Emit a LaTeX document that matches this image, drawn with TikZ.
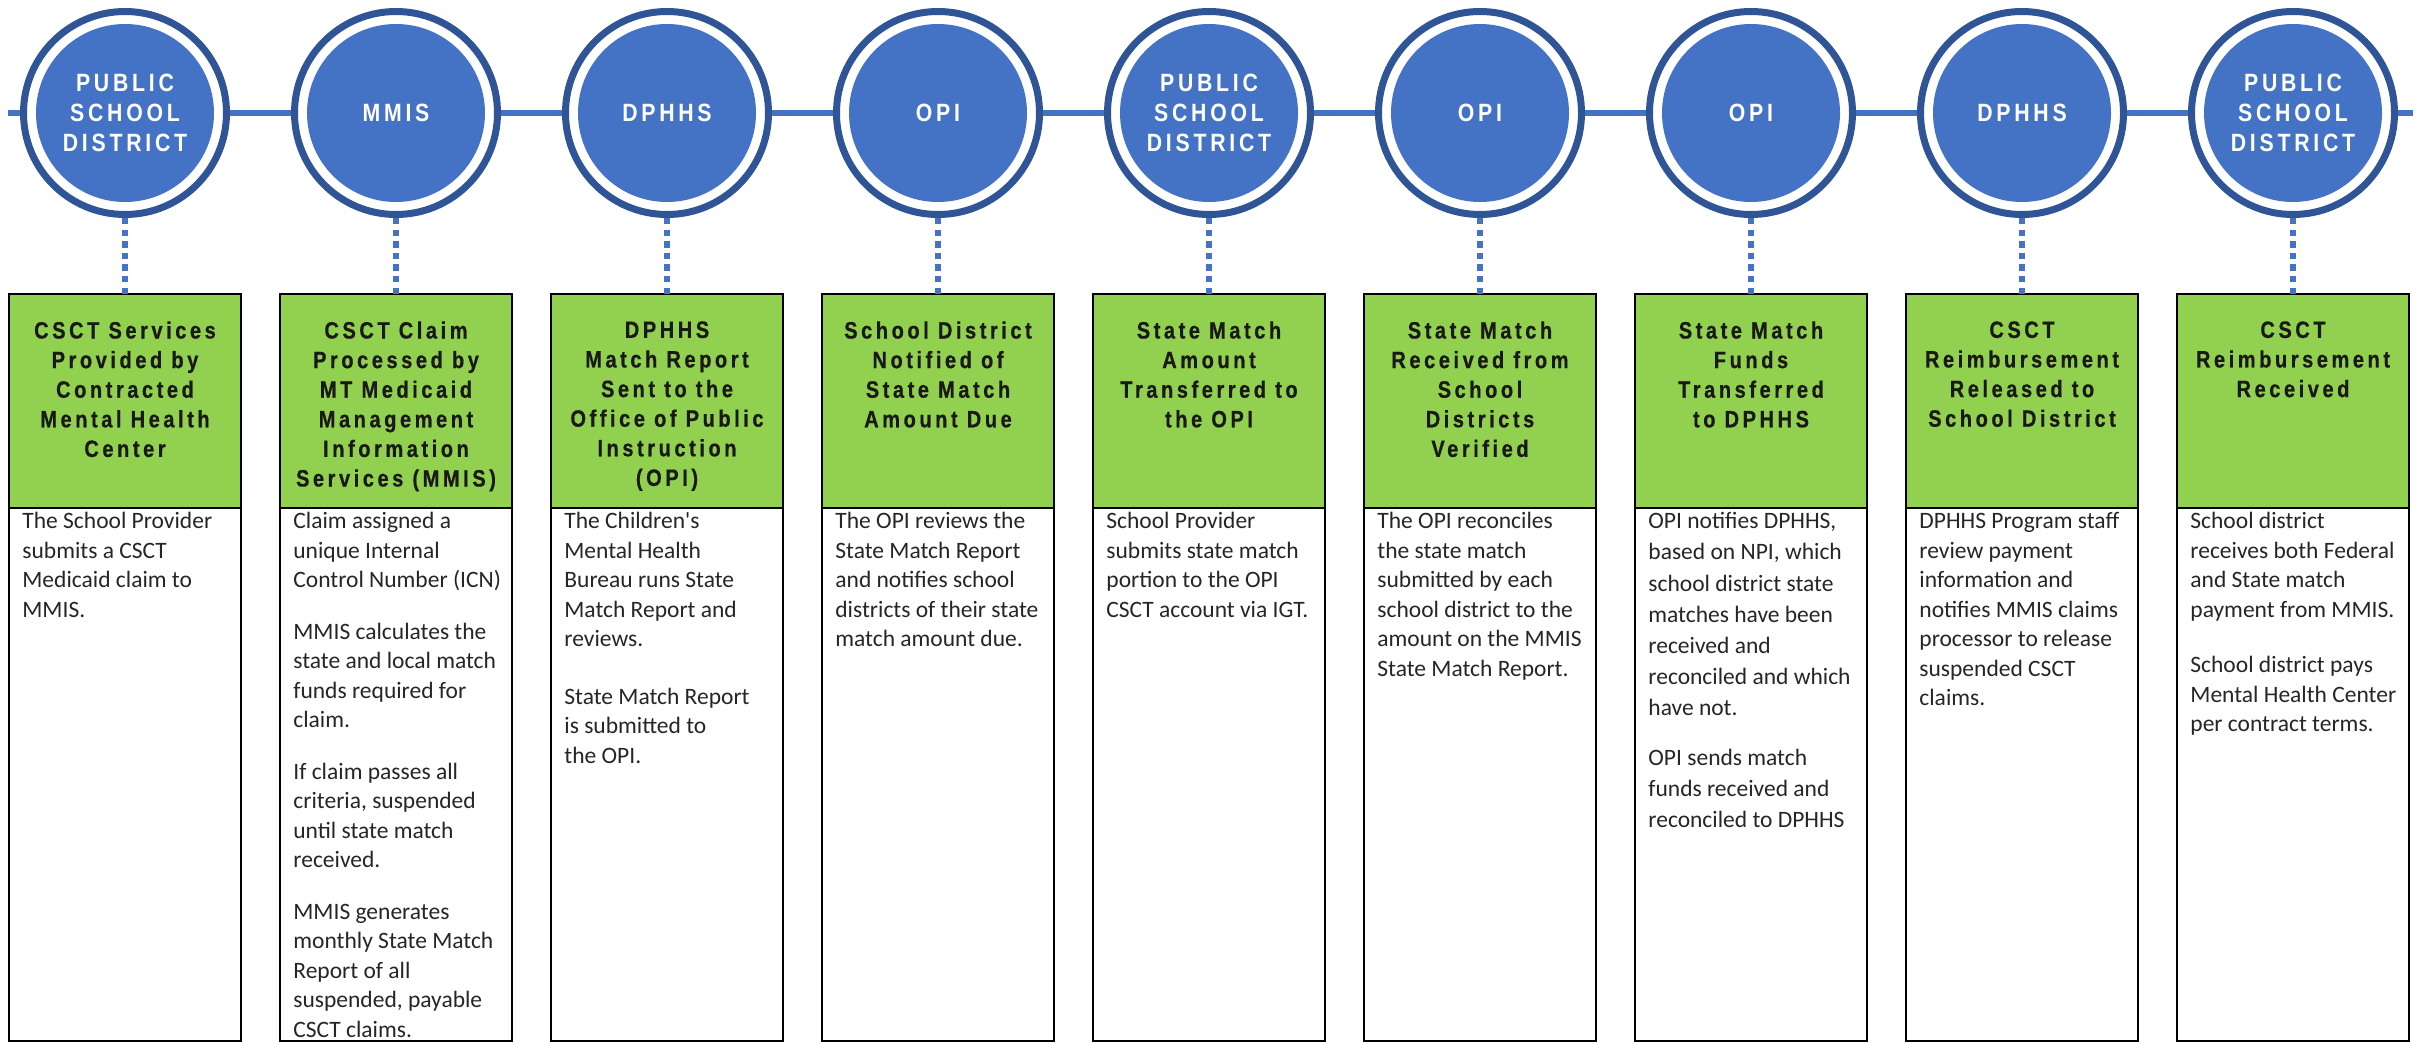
\documentclass[tikz,border=0pt]{standalone}
\usepackage{fontspec}
\usepackage{tikz}
\usetikzlibrary{positioning}
\newfontfamily\hubfont{Liberation Sans}[FakeStretch=0.85,LetterSpace=15]
\newfontfamily\headfont{Liberation Sans Bold}[FakeStretch=0.85,LetterSpace=15,FakeBold=0.6]
\newfontfamily\bodyfont{Carlito}
\definecolor{hubblue}{HTML}{4472C4}
\definecolor{ringblue}{HTML}{2F5597}
\definecolor{stepgreen}{HTML}{92D050}
\definecolor{bodygray}{HTML}{262626}
\tikzset{
    hub/.style={circle, draw=ringblue, line width=3.5pt, fill=white, minimum size=101.5pt, inner sep=0pt,
        text=white, align=center, font=\hubfont\bfseries\fontsize{12.5}{15}\selectfont,
        path picture={\fill[hubblue] (path picture bounding box.center) circle[radius=44.5pt];}},
    headbox/.style={rectangle, draw=black, line width=1.4pt, fill=stepgreen, minimum width=116pt, minimum height=107pt, outer sep=0pt, anchor=north},
    bodybox/.style={rectangle, draw=black, line width=1.2pt, fill=white, minimum width=116pt, minimum height=266.5pt, outer sep=0pt},
    steptitle/.style={align=center, inner sep=0pt, text=black!90, font=\headfont\fontsize{11.8}{14.8}\selectfont},
    stepnotes/.style={align=left, inner sep=0pt, text=bodygray, font=\bodyfont\fontsize{11.75}{14.75}\selectfont},
    timeline/.style={draw=hubblue, line width=3pt},
    dotlink/.style={draw=hubblue, line width=3.2pt, dash pattern=on 3.2pt off 2.6pt}
}
\begin{document}
\begin{tikzpicture}[x=0.5pt, y=-0.5pt]
  \useasboundingbox (0,0) rectangle (2420,1044);
  % who acts at each step
  \node[hub] (c1) at (125,113) {PUBLIC\\SCHOOL\\DISTRICT};
  \node[hub] (c2) at (396,113) {MMIS};
  \node[hub] (c3) at (667,113) {DPHHS};
  \node[hub] (c4) at (938,113) {OPI};
  \node[hub] (c5) at (1209,113) {PUBLIC\\SCHOOL\\DISTRICT};
  \node[hub] (c6) at (1480,113) {OPI};
  \node[hub] (c7) at (1751,113) {OPI};
  \node[hub] (c8) at (2022,113) {DPHHS};
  \node[hub] (c9) at (2293,113) {PUBLIC\\SCHOOL\\DISTRICT};
  \coordinate (lineL) at (8,113);
  \coordinate (lineR) at (2413,113);
  \draw[timeline] (lineL) -- (c1);
  \draw[timeline] (c1) -- (c2);
  \draw[timeline] (c2) -- (c3);
  \draw[timeline] (c3) -- (c4);
  \draw[timeline] (c4) -- (c5);
  \draw[timeline] (c5) -- (c6);
  \draw[timeline] (c6) -- (c7);
  \draw[timeline] (c7) -- (c8);
  \draw[timeline] (c8) -- (c9);
  \draw[timeline] (c9) -- (lineR);

  % step boxes
  \node[headbox] (h1) at (125,294) {};
  \node[headbox] (h2) at (396,294) {};
  \node[headbox] (h3) at (667,294) {};
  \node[headbox] (h4) at (938,294) {};
  \node[headbox] (h5) at (1209,294) {};
  \node[headbox] (h6) at (1480,294) {};
  \node[headbox] (h7) at (1751,294) {};
  \node[headbox] (h8) at (2022,294) {};
  \node[headbox] (h9) at (2293,294) {};
  \node[bodybox, below=0pt of h1] (b1) {};
  \node[bodybox, below=0pt of h2] (b2) {};
  \node[bodybox, below=0pt of h3] (b3) {};
  \node[bodybox, below=0pt of h4] (b4) {};
  \node[bodybox, below=0pt of h5] (b5) {};
  \node[bodybox, below=0pt of h6] (b6) {};
  \node[bodybox, below=0pt of h7] (b7) {};
  \node[bodybox, below=0pt of h8] (b8) {};
  \node[bodybox, below=0pt of h9] (b9) {};
  \draw[dotlink] (c1) -- (h1);
  \draw[dotlink] (c2) -- (h2);
  \draw[dotlink] (c3) -- (h3);
  \draw[dotlink] (c4) -- (h4);
  \draw[dotlink] (c5) -- (h5);
  \draw[dotlink] (c6) -- (h6);
  \draw[dotlink] (c7) -- (h7);
  \draw[dotlink] (c8) -- (h8);
  \draw[dotlink] (c9) -- (h9);

  % titles
  \node[steptitle, below=13.5pt of h1.north] (t1) {CSCT Services\\Provided by\\Contracted\\Mental Health\\Center};
  \node[steptitle, below=13.5pt of h2.north] (t2) {CSCT Claim\\Processed by\\MT Medicaid\\Management\\Information\\Services (MMIS)};
  \node[steptitle, below=13.5pt of h3.north] (t3) {DPHHS\\Match Report\\Sent to the\\Office of Public\\Instruction\\(OPI)};
  \node[steptitle, below=13.5pt of h4.north] (t4) {School District\\Notified of\\State Match\\Amount Due};
  \node[steptitle, below=13.5pt of h5.north] (t5) {State Match\\Amount\\Transferred to\\the OPI};
  \node[steptitle, below=13.5pt of h6.north] (t6) {State Match\\Received from\\School\\Districts\\Verified};
  \node[steptitle, below=13.5pt of h7.north] (t7) {State Match\\Funds\\Transferred\\to DPHHS};
  \node[steptitle, below=13.5pt of h8.north] (t8) {CSCT\\Reimbursement\\Released to\\School District};
  \node[steptitle, below=13.5pt of h9.north] (t9) {CSCT\\Reimbursement\\Received};

  % what happens
  \node[stepnotes, below right=2pt and 6.5pt of b1.north west] (d1) {The School Provider\\submits a CSCT\\Medicaid claim to\\MMIS.};
  \node[stepnotes, below right=2pt and 6.5pt of b2.north west] (d2) {Claim assigned a\\unique Internal\\Control Number (ICN)\\[11pt]
    MMIS calculates the\\state and local match\\funds required for\\claim.\\[11pt]
    If claim passes all\\criteria, suspended\\until state match\\received.\\[11pt]
    MMIS generates\\monthly State Match\\Report of all\\suspended, payable\\CSCT claims.};
  \node[stepnotes, below right=2pt and 6.5pt of b3.north west] (d3) {The Children's\\Mental Health\\Bureau runs State\\Match Report and\\reviews.\\[14pt]
    State Match Report\\is submitted to\\the OPI.};
  \node[stepnotes, below right=2pt and 6.5pt of b4.north west] (d4) {The OPI reviews the\\State Match Report\\and notifies school\\districts of their state\\match amount due.};
  \node[stepnotes, below right=2pt and 6.5pt of b5.north west] (d5) {School Provider\\submits state match\\portion to the OPI\\CSCT account via IGT.};
  \node[stepnotes, below right=2pt and 6.5pt of b6.north west] (d6) {The OPI reconciles\\the state match\\submitted by each\\school district to the\\amount on the MMIS\\State Match Report.};
  \node[stepnotes, below right=2pt and 6.5pt of b7.north west, font=\bodyfont\fontsize{11.75}{15.6}\selectfont] (d7) {OPI notifies DPHHS,\\based on NPI, which\\school district state\\matches have been\\received and\\reconciled and which\\have not.\\[9pt]
    OPI sends match\\funds received and\\reconciled to DPHHS};
  \node[stepnotes, below right=2pt and 6.5pt of b8.north west] (d8) {DPHHS Program staff\\review payment\\information and\\notifies MMIS claims\\processor to release\\suspended CSCT\\claims.};
  \node[stepnotes, below right=2pt and 6.5pt of b9.north west] (d9) {School district\\receives both Federal\\and State match\\payment from MMIS.\\[13pt]
    School district pays\\Mental Health Center\\per contract terms.};
\end{tikzpicture}
\end{document}
